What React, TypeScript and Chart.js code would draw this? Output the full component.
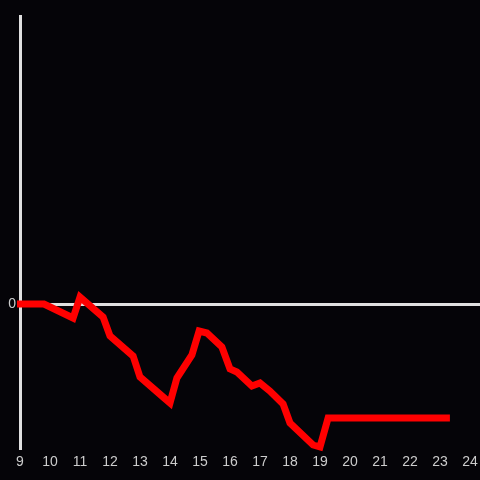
import React, { useEffect, useRef } from "react";
import { Chart, registerables } from "chart.js";

Chart.register(...registerables);

const hours = [8.9, 9.8, 10.77, 11.0, 11.77, 12.0, 12.77, 13.0, 13.77, 14.0, 14.23, 14.73, 14.97, 15.23, 15.73, 16.0, 16.23, 16.73, 17.0, 17.33, 17.77, 18.0, 18.77, 19.0, 19.27, 23.33];
const values = [0, 0, -14, 7, -13, -32, -52, -73, -93, -99, -74, -51, -27, -29, -43, -65, -68, -82, -79, -87, -100, -119, -141, -143, -114, -114];
const xTickMin = 9;
const xTickMax = 24;
const yMin = -144;
const yMax = 288;

export default function App() {
  const ref = useRef<HTMLCanvasElement | null>(null);
  useEffect(() => {
    if (!ref.current) return;
    const chart = new Chart(ref.current, {
      type: "line",
      data: {
        datasets: [
          {
            data: hours.map((h, i) => ({ x: h, y: values[i] })),
            borderColor: "#ff0000",
            borderWidth: 7,
            pointRadius: 0,
            tension: 0,
            fill: false,
            clip: false as any,
          },
        ],
      },
      options: {
        animation: false,
        responsive: false,
        maintainAspectRatio: false,
        layout: { padding: { top: 16, right: 0, left: 0, bottom: 0 } },
        plugins: { legend: { display: false }, tooltip: { enabled: false } },
        scales: {
          x: {
            type: "linear",
            min: xTickMin,
            max: xTickMax + 1 / 3,
            grid: { display: false, drawTicks: false },
            border: { display: false },
            ticks: {
              stepSize: 1,
              includeBounds: false,
              autoSkip: false,
              maxRotation: 0,
              color: "#cccccc",
              padding: 6,
              font: { family: "'Liberation Sans', Arial, sans-serif", size: 14 },
              callback: (v: any) => String(v),
            },
            afterFit: (s: any) => {
              s.height = 32;
              s.paddingLeft = 0;
              s.paddingRight = 0;
            },
          },
          y: {
            type: "linear",
            min: yMin,
            max: yMax,
            grid: {
              drawTicks: false,
              color: (ctx: any) => (ctx.tick && ctx.tick.value === 0 ? "#e0e0e0" : "rgba(0,0,0,0)"),
              lineWidth: 3,
            },
            border: { display: true, color: "#e0e0e0", width: 3 },
            ticks: {
              stepSize: 144,
              color: "#cccccc",
              padding: 4,
              font: { family: "'Liberation Sans', Arial, sans-serif", size: 14 },
              callback: (v: any) => (v === 0 ? "0" : ""),
            },
            afterFit: (s: any) => {
              s.width = 20;
              s.paddingTop = 0;
              s.paddingBottom = 0;
            },
          },
        },
      },
    });
    return () => chart.destroy();
  }, []);
  return (
    <div style={{ position: "absolute", left: 0, top: 0, width: 480, height: 480, background: "#050408" }}>
      <canvas ref={ref} width={480} height={480} style={{ display: "block", width: 480, height: 480 }} />
    </div>
  );
}
